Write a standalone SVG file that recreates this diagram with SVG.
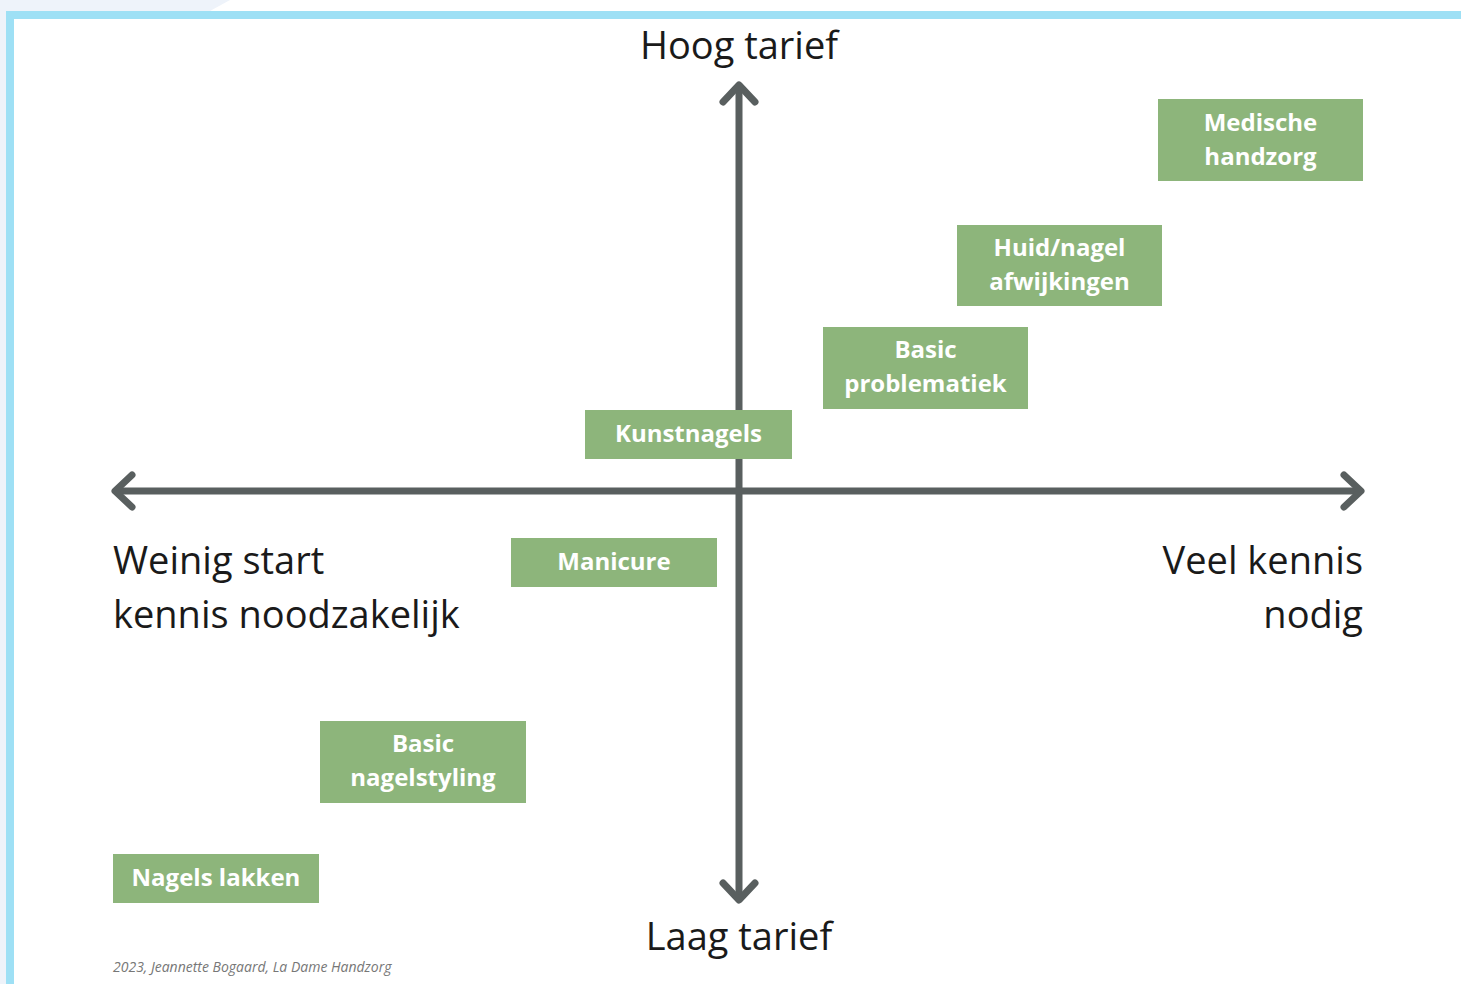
<svg xmlns="http://www.w3.org/2000/svg" width="1461" height="984" viewBox="0 0 1461 984">
<style>
.box{fill:#8db57b;}
.bt{font-family:"Open Sans","Liberation Sans",sans-serif;font-weight:700;font-size:24px;fill:#ffffff;text-anchor:middle;}
.lbl{font-family:"Open Sans","Liberation Sans",sans-serif;font-size:38px;fill:#1a1a1a;}
.ax{stroke:#595f5f;stroke-width:7;fill:none;stroke-linecap:round;stroke-linejoin:round;}
.foot{font-family:"Open Sans","Liberation Sans",sans-serif;font-style:italic;font-size:14px;fill:#777;}
</style>
<rect x="0" y="0" width="1461" height="984" fill="#ffffff"/>
<path d="M0 0 H230 L210 11 H6 V984 H0 Z" fill="#eef3fa"/>
<rect x="6" y="11" width="1455" height="973" fill="#ffffff"/>
<path d="M10 984 V15 H1461" fill="none" stroke="#9ee0f5" stroke-width="8"/>
<g id="connectors">
<line class="ax" x1="739" y1="86" x2="739" y2="899"/>
<line class="ax" x1="116" y1="491" x2="1360" y2="491"/>
<polyline class="ax" points="723,102 739,85 755,102"/>
<polyline class="ax" points="723,883 739,900 755,883"/>
<polyline class="ax" points="132,475 115,491 132,507"/>
<polyline class="ax" points="1344,475 1361,491 1344,507"/>
</g>
<g id="labels">
<text class="lbl" x="739" y="59" text-anchor="middle">Hoog tarief</text>
<text class="lbl" x="739" y="950" text-anchor="middle">Laag tarief</text>
<text class="lbl" x="113" y="574">Weinig start</text>
<text class="lbl" x="113" y="628">kennis noodzakelijk</text>
<text class="lbl" x="1363" y="574" text-anchor="end">Veel kennis</text>
<text class="lbl" x="1363" y="628" text-anchor="end">nodig</text>
<text class="foot" x="113" y="972">2023, Jeannette Bogaard, La Dame Handzorg</text>
</g>
<g id="medische"><rect class="box" x="1158" y="99" width="205" height="82"/><text class="bt" x="1260.5" y="131">Medische</text><text class="bt" x="1260.5" y="165">handzorg</text></g>
<g id="huid"><rect class="box" x="957" y="225" width="205" height="81"/><text class="bt" x="1059.5" y="256">Huid/nagel</text><text class="bt" x="1059.5" y="290">afwijkingen</text></g>
<g id="basicprob"><rect class="box" x="823" y="327" width="205" height="82"/><text class="bt" x="925.5" y="358">Basic</text><text class="bt" x="925.5" y="392">problematiek</text></g>
<g id="kunstnagels"><rect class="box" x="585" y="410" width="207" height="49"/><text class="bt" x="688.5" y="442">Kunstnagels</text></g>
<g id="manicure"><rect class="box" x="511" y="538" width="206" height="49"/><text class="bt" x="614" y="570">Manicure</text></g>
<g id="basicnagel"><rect class="box" x="320" y="721" width="206" height="82"/><text class="bt" x="423" y="752">Basic</text><text class="bt" x="423" y="786">nagelstyling</text></g>
<g id="lakken"><rect class="box" x="113" y="854" width="206" height="49"/><text class="bt" x="216" y="886">Nagels lakken</text></g>
</svg>
